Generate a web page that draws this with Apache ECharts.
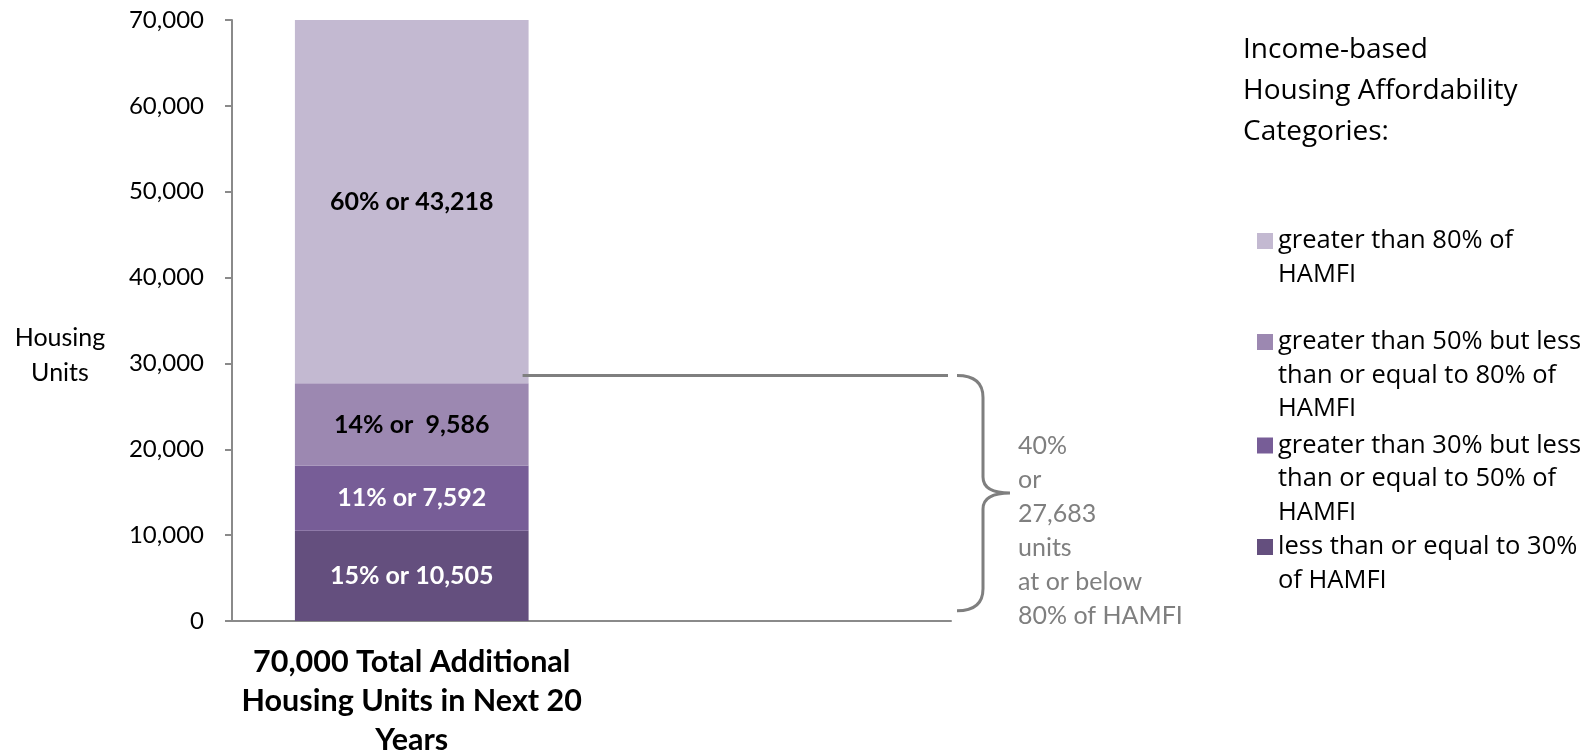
<!DOCTYPE html>
<html>
<head>
<meta charset="utf-8">
<script src="https://cdn.jsdelivr.net/npm/echarts@6/dist/echarts.min.js"></script>
<style>
  html, body { margin: 0; padding: 0; background: #ffffff; }
  #chart { width: 1595px; height: 752px; }
</style>
</head>
<body>
<div id="chart"></div>
<script>
// ---- data ----
const categories = ['70,000 Total Additional\nHousing Units in Next 20\nYears', ''];
const seriesNames = [
  'less than or equal to 30%\nof HAMFI',
  'greater than 30% but less\nthan or equal to 50% of\nHAMFI',
  'greater than 50% but less\nthan or equal to 80% of\nHAMFI',
  'greater than 80% of\nHAMFI'
];
const unitCounts = [10505, 7592, 9586, 43218];
const unitShares = [15, 11, 14, 60];
const labelSeparators = [' ', ' ', '  ', ' '];
const bracketRange = [28600, 1200];      // brace spans these housing-unit levels
const affordableSegments = 3;            // segments at or below 80% of HAMFI
const yMax = 70000;
const yStep = 10000;
const legendTitle = 'Income-based\nHousing Affordability\nCategories:';
const axisName = 'Housing\nUnits';

// ---- styling ----
const segmentColors = ['#644F7E', '#775D97', '#9C88B1', '#C3B9D1'];
const labelColors = ['#ffffff', '#ffffff', '#000000', '#000000'];
const gray = '#8a8a8a';
const bodyFont = 'Lato';
const legendFont = 'Open Sans';
const barShare = 0.65;

const fmt = v => v.toLocaleString('en-US');

const affordableCount = unitCounts.slice(0, affordableSegments).reduce((a, b) => a + b, 0);
const affordableShare = unitShares.slice(0, affordableSegments).reduce((a, b) => a + b, 0);
const braceText = affordableShare + '%\nor\n' + fmt(affordableCount) + '\nunits\nat or below\n80% of HAMFI';

const barSeries = seriesNames.map((name, i) => ({
  name: name,
  type: 'bar',
  stack: 'units',
  barWidth: (barShare * 100) + '%',
  clip: true,
  itemStyle: { color: segmentColors[i] },
  emphasis: { disabled: true },
  label: {
    show: true,
    position: 'inside',
    color: labelColors[i],
    fontFamily: bodyFont,
    fontWeight: 'bold',
    fontSize: 25,
    formatter: () => unitShares[i] + '% or' + labelSeparators[i] + fmt(unitCounts[i])
  },
  data: [unitCounts[i], '-']
}));

// brace and connector line beside the bar, placed through the axes
function renderBrace(params, api) {
  const cs = params.coordSys;
  const band = api.size([1, 0])[0];
  const top = api.coord([api.value(0), api.value(1)]);
  const bottom = api.coord([api.value(0), api.value(2)]);
  const barRight = top[0] + band * barShare / 2;
  const axisEnd = cs.x + cs.width;
  const yT = top[1], yB = bottom[1], yM = (yT + yB) / 2;
  const x0 = axisEnd + 6, xs = axisEnd + 32, xt = axisEnd + 59;
  const d = 'M' + x0 + ',' + yT +
    ' Q' + xs + ',' + yT + ' ' + xs + ',' + (yT + 22) +
    ' L' + xs + ',' + (yM - 16) +
    ' Q' + xs + ',' + yM + ' ' + xt + ',' + yM +
    ' Q' + xs + ',' + yM + ' ' + xs + ',' + (yM + 16) +
    ' L' + xs + ',' + (yB - 22) +
    ' Q' + xs + ',' + yB + ' ' + x0 + ',' + yB;
  return {
    type: 'group',
    children: [
      {
        type: 'line',
        shape: { x1: barRight - 6, y1: yT, x2: axisEnd - 3, y2: yT },
        style: { stroke: '#7f7f7f', lineWidth: 3 }
      },
      {
        type: 'path',
        shape: { pathData: d },
        style: { stroke: '#7f7f7f', lineWidth: 3, fill: null }
      },
      {
        type: 'text',
        style: {
          text: braceText,
          x: axisEnd + 67,
          y: yM - 64,
          verticalAlign: 'top',
          align: 'left',
          fill: '#7f7f7f',
          fontFamily: bodyFont,
          fontSize: 25,
          lineHeight: 34
        }
      }
    ]
  };
}

// one legend block per category so each can sit at its own height;
// leading blank lines keep the swatch level with the first text line
const legendLineHeight = 33.5;
const legendIconCenters = [241, 342, 445.5, 547];
const legendOrder = [3, 2, 1, 0];
const legends = legendOrder.map((si, k) => {
  const n = seriesNames[si].split('\n').length;
  return {
    data: [seriesNames[si]],
    orient: 'vertical',
    left: 1257,
    top: legendIconCenters[k] - (2 * n - 1) * legendLineHeight / 2,
    padding: 0,
    icon: 'rect',
    itemWidth: 16,
    itemHeight: 16,
    selectedMode: false,
    formatter: name => '\n'.repeat(n - 1) + name,
    textStyle: {
      fontFamily: legendFont,
      fontSize: 25.5,
      color: '#000000',
      lineHeight: legendLineHeight
    }
  };
});

const chart = echarts.init(document.getElementById('chart'), null, { renderer: 'canvas' });
chart.setOption({
  animation: false,
  backgroundColor: '#ffffff',
  title: {
    text: legendTitle,
    left: 1243,
    top: 30,
    padding: 0,
    textStyle: {
      fontFamily: legendFont,
      fontSize: 28,
      fontWeight: 'normal',
      color: '#000000',
      lineHeight: 41
    }
  },
  legend: legends,
  grid: { left: 232, right: 644, top: 20, bottom: 131, containLabel: false, outerBoundsMode: 'none' },
  xAxis: {
    type: 'category',
    data: categories,
    boundaryGap: true,
    axisLine: { show: true, lineStyle: { color: gray, width: 2 } },
    axisTick: { show: false },
    axisLabel: {
      interval: 0,
      margin: 22,
      color: '#000000',
      fontFamily: bodyFont,
      fontWeight: 'bold',
      fontSize: 30.5,
      lineHeight: 39,
      align: 'center'
    },
    splitLine: { show: false }
  },
  yAxis: {
    type: 'value',
    min: 0,
    max: yMax,
    interval: yStep,
    name: axisName,
    nameLocation: 'middle',
    nameRotate: 0,
    nameGap: 172,
    nameTextStyle: {
      fontFamily: bodyFont,
      fontSize: 25,
      color: '#000000',
      lineHeight: 35,
      align: 'center',
      verticalAlign: 'top'
    },
    axisLine: { show: true, lineStyle: { color: gray, width: 2 } },
    axisTick: { show: true, inside: false, length: 7, lineStyle: { color: gray, width: 2 } },
    axisLabel: {
      margin: 28,
      color: '#000000',
      fontFamily: bodyFont,
      fontSize: 24,
      formatter: v => fmt(v)
    },
    splitLine: { show: false }
  },
  series: barSeries.concat([{
    type: 'custom',
    name: 'brace',
    silent: true,
    clip: false,
    z: 5,
    renderItem: renderBrace,
    encode: { x: 0, y: [1, 2] },
    data: [[0, bracketRange[0], bracketRange[1]]]
  }])
});
</script>
</body>
</html>
